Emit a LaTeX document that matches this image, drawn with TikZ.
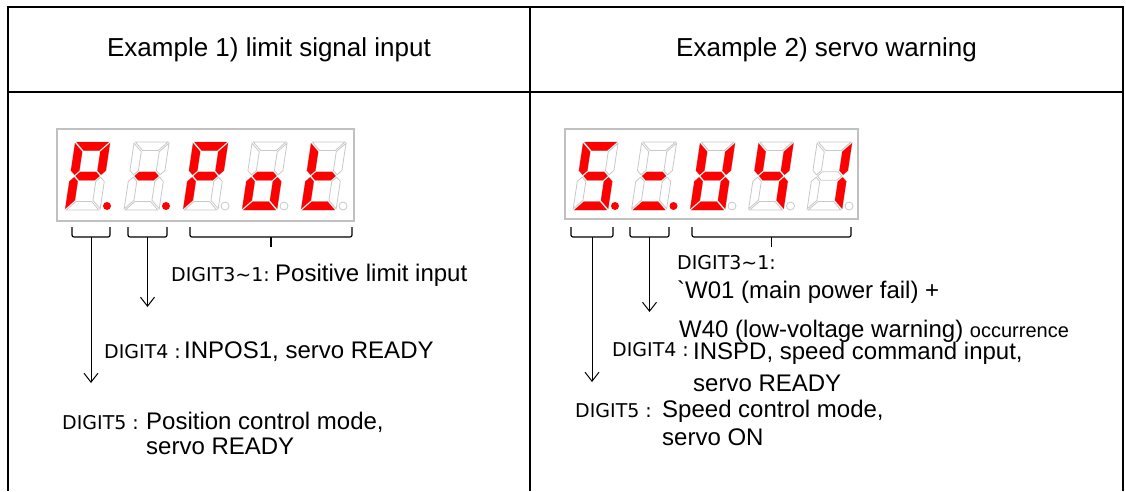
\documentclass[tikz,border=0pt]{standalone}
\usepackage{fontspec}
\setmainfont{Liberation Sans}
\newfontfamily\digfont{DejaVu Sans}
\usepackage{tikz}
\usetikzlibrary{arrows.meta}
\definecolor{segred}{HTML}{FF0000}
\definecolor{segoff}{HTML}{C8C8C8}
\definecolor{panelgray}{HTML}{C0C0C0}
\tikzset{
  rule/.style={line width=2.5pt},
  panel/.style={draw=panelgray,line width=1.5pt},
  segon/.style={fill=segred},
  segdim/.style={fill=white,draw=segoff,line width=0.8pt},
  brace/.style={line width=1.2pt,rounded corners=2pt},
  arr/.style={line width=1pt,-{Straight Barb[length=9pt,width=14pt]}},
  head/.style={font=\fontsize{26}{30}\selectfont},
  txt/.style={font=\fontsize{24}{28}\selectfont,anchor=base west,inner sep=0pt},
  lbl/.style={font=\digfont\fontsize{19}{22}\selectfont,anchor=base west,inner sep=0pt}
}
\def\sga{(1.2,68) -- (33.8,68) -- (25.3,59.5) -- (9.7,59.5) -- cycle}
\def\sgb{(35,66.8) -- (35,39.45) -- (30.75,35.2) -- (26.5,39.45) -- (26.5,58.3) -- cycle}
\def\sgc{(35,1.2) -- (35,28.55) -- (30.75,32.8) -- (26.5,28.55) -- (26.5,9.7) -- cycle}
\def\sgd{(1.2,0) -- (33.8,0) -- (25.3,8.5) -- (9.7,8.5) -- cycle}
\def\sge{(0,1.2) -- (8.5,9.7) -- (8.5,28.55) -- (4.25,32.8) -- (0,28.55) -- cycle}
\def\sgf{(0,66.8) -- (8.5,58.3) -- (8.5,39.45) -- (4.25,35.2) -- (0,39.45) -- cycle}
\def\sgg{(5.45,34) -- (9.7,38.25) -- (25.3,38.25) -- (29.55,34) -- (25.3,29.75) -- (9.7,29.75) -- cycle}
\newcommand\ledigit[3]{%
  \begin{scope}[shift={(#1,210)},x=1pt,y=1pt,xslant=0.15]
    \foreach \s in {a,b,c,d,e,f,g} {\path[segdim] \csname sg\s\endcsname;}
    \foreach \s in {#2} {\path[segon] \csname sg\s\endcsname;}
  \end{scope}
  \path[#3] (#1+42,206) circle[radius=4];
}

\begin{document}
\begin{tikzpicture}[x=1pt,y=-1pt]
  \useasboundingbox (0,0) rectangle (1126,491);
  \draw[rule] (8,491) -- (8,7) -- (1123,7) -- (1123,491);
  \draw[rule] (8,92) -- (1123,92);
  \draw[rule] (530,7) -- (530,491);
  \node[head] (hdl) at (269,50) {Example 1) limit signal input};
  \node[head] (hdr) at (826.5,50) {Example 2) servo warning};

  \draw[panel] (57,129) rectangle (354,221);
  \draw[panel] (565,129) rectangle (858,219);
  \ledigit{65}{a,b,e,f,g}{segon}
  \ledigit{124}{g}{segon}
  \ledigit{183}{a,b,e,f,g}{segdim}
  \ledigit{242}{c,d,e,g}{segdim}
  \ledigit{301}{d,e,f,g}{segdim}
  \ledigit{573}{a,c,d,f,g}{segon}
  \ledigit{631.5}{d,g}{segon}
  \ledigit{690}{b,c,d,e,f,g}{segdim}
  \ledigit{748.5}{b,c,f,g}{segdim}
  \ledigit{807}{b,c}{segdim}

  \foreach \bl/\br/\bn in {72/110/la,128/167/lb,190/352/lc,571/613/ra,630/669/rb,692/851/rc} {
    \draw[brace] (\bl,227) -- (\bl,237) -- (\br,237) -- (\br,227);
    \coordinate (\bn) at ({(\bl+\br)/2},237);
  }
  \coordinate (lcend) at (271,247);
  \coordinate (rcend) at (771.5,247);
  \coordinate (laend) at (91,383);
  \coordinate (lbend) at (147.5,307);
  \coordinate (raend) at (592,382);
  \coordinate (rbend) at (649.5,312);
  \draw[brace] (lc) -- (lcend);
  \draw[brace] (rc) -- (rcend);
  \draw[arr] (la) -- (laend);
  \draw[arr] (lb) -- (lbend);
  \draw[arr] (ra) -- (raend);
  \draw[arr] (rb) -- (rbend);

  \node[lbl] (ldig3) at (171,281) {DIGIT3\textasciitilde1:};
  \node[txt] (lpot) at (275,281) {Positive limit input};
  \node[lbl] (ldig4) at (104,358) {DIGIT4 :};
  \node[txt] (linpos) at (184,358) {INPOS1, servo READY};
  \node[lbl] (ldig5) at (62,429) {DIGIT5 :};
  \node[txt] (lmode) at (146,429) {Position control mode,};
  \node[txt] (lrdy) at (146,454) {servo READY};

  \node[lbl] (rdig3) at (677,269) {DIGIT3\textasciitilde1:};
  \node[txt] (rw01) at (677,298) {\textasciigrave W01 (main power fail) +};
  \node[txt] (rw40) at (679,337) {W40 (low-voltage warning) {\fontsize{20}{24}\selectfont occurrence}};
  \node[lbl] (rdig4) at (612,356) {DIGIT4 :};
  \node[txt] (rinspd) at (693,359) {INSPD, speed command input,};
  \node[txt] (rrdy) at (693,391) {servo READY};
  \node[lbl] (rdig5) at (575,417) {DIGIT5 :};
  \node[txt] (rmode) at (662,417) {Speed control mode,};
  \node[txt] (ron) at (662,445) {servo ON};
\end{tikzpicture}
\end{document}
